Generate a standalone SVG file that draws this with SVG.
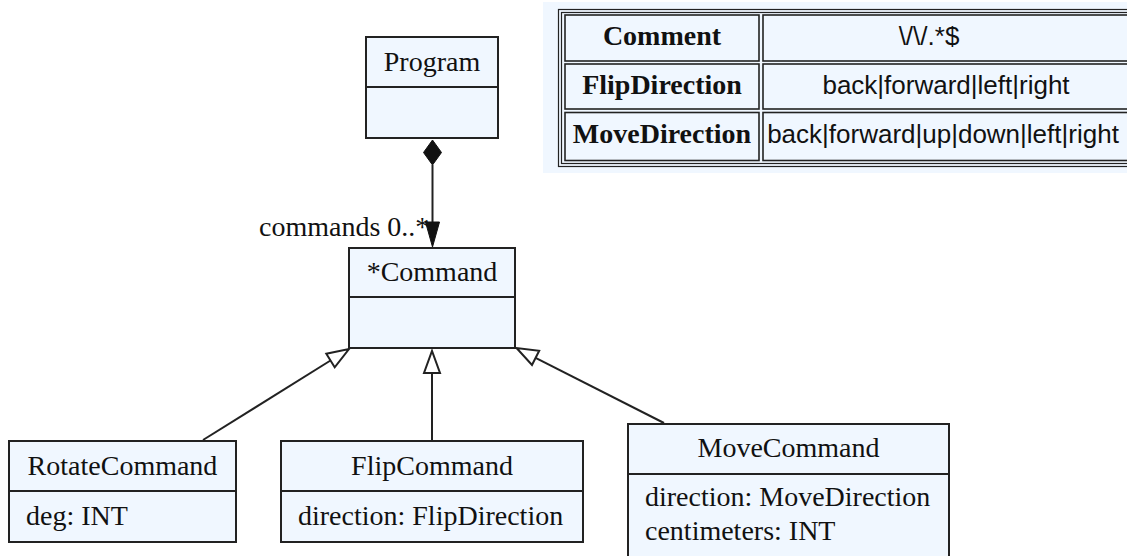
<svg xmlns="http://www.w3.org/2000/svg" width="1127" height="556" viewBox="0 0 1127 556">
<style>
.box{fill:#f0f7ff;stroke:#222;stroke-width:2}
.ln{stroke:#222;stroke-width:2;fill:none}
.t{font-family:"Liberation Serif","Times New Roman",serif;font-size:28px;fill:#111}
.c{text-anchor:middle}
.b{font-weight:bold}
.s{font-family:"Liberation Sans",Arial,sans-serif;font-size:26px;fill:#111;text-anchor:middle}
.tb{fill:none;stroke:#222;stroke-width:1.2}
.cell{fill:#f0f7ff;stroke:#222;stroke-width:1.6}
.gen{fill:#fff;stroke:#222;stroke-width:2;stroke-linejoin:miter}
</style>
<rect width="1127" height="556" fill="#fff"/>
<g id="enums">
<rect x="543" y="2" width="584" height="171" fill="#f0f7ff"/>
<rect class="tb" x="558.5" y="9.5" width="580" height="157"/>
<rect class="tb" x="561.5" y="12.5" width="574" height="151"/>
<rect class="cell" x="565" y="15" width="194" height="46"/>
<rect class="cell" x="763" y="15" width="370" height="46"/>
<rect class="cell" x="565" y="64" width="194" height="45"/>
<rect class="cell" x="763" y="64" width="370" height="45"/>
<rect class="cell" x="565" y="112.5" width="194" height="48"/>
<rect class="cell" x="763" y="112.5" width="370" height="48"/>
<text class="t c b" x="662" y="45">Comment</text>
<text class="s" x="929" y="45">\/\/.*$</text>
<text class="t c b" x="662" y="94">FlipDirection</text>
<text class="s" x="946" y="94">back|forward|left|right</text>
<text class="t c b" x="662" y="143">MoveDirection</text>
<text class="s" x="943" y="143">back|forward|up|down|left|right</text>
</g>
<g id="Program">
<rect class="box" x="366" y="37" width="132" height="101"/>
<line class="ln" x1="366" y1="87" x2="498" y2="87"/>
<text class="t c" x="432" y="71">Program</text>
</g>
<g id="Command">
<rect class="box" x="349" y="248" width="166" height="100"/>
<line class="ln" x1="349" y1="297" x2="515" y2="297"/>
<text class="t c" x="432" y="281">*Command</text>
</g>
<g id="RotateCommand">
<rect class="box" x="9" y="441" width="227" height="101"/>
<line class="ln" x1="9" y1="491" x2="236" y2="491"/>
<text class="t c" x="122.5" y="475">RotateCommand</text>
<text class="t" x="26" y="525">deg: INT</text>
</g>
<g id="FlipCommand">
<rect class="box" x="281" y="441" width="302" height="101"/>
<line class="ln" x1="281" y1="491" x2="583" y2="491"/>
<text class="t c" x="432" y="475">FlipCommand</text>
<text class="t" x="298" y="525">direction: FlipDirection</text>
</g>
<g id="MoveCommand">
<rect class="box" x="628" y="424" width="321" height="140"/>
<line class="ln" x1="628" y1="474" x2="949" y2="474"/>
<text class="t c" x="788.5" y="457">MoveCommand</text>
<text class="t" x="645" y="506">direction: MoveDirection</text>
<text class="t" x="645" y="540">centimeters: INT</text>
</g>
<g id="connectors">
<line class="ln" x1="432.5" y1="165" x2="432.5" y2="224"/>
<polygon points="432.5,140 441.5,152.5 432.5,165 423.5,152.5" fill="#111" stroke="#111" stroke-width="1"/>
<polygon points="425.5,222 439.5,222 432.5,247" fill="#111" stroke="#111" stroke-width="1"/>
<text class="t" x="259" y="236">commands 0..*</text>
<line class="ln" x1="432" y1="441" x2="432" y2="373"/>
<polygon class="gen" points="424,373 440,373 432,351"/>
<line class="ln" x1="203" y1="440" x2="330.5" y2="360.5"/>
<polygon class="gen" points="334.7,367.3 326.3,353.7 349,349"/>
<line class="ln" x1="664" y1="423" x2="535.6" y2="357.9"/>
<polygon class="gen" points="539.2,350.8 532,365 516.5,348"/>
</g>
</svg>
